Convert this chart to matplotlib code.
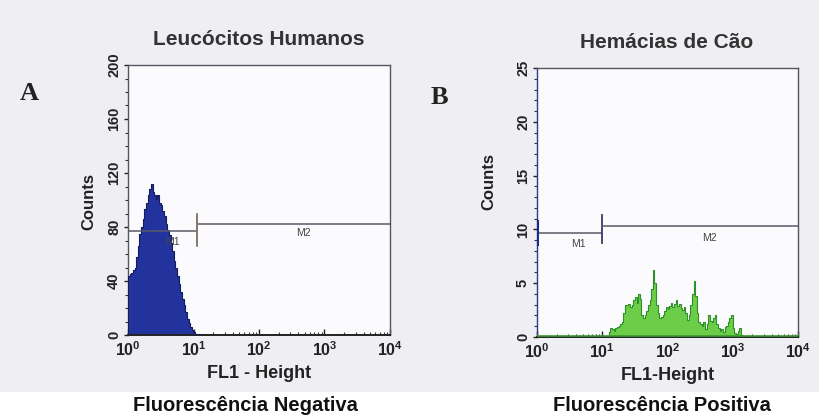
import numpy as np
import matplotlib
matplotlib.use("Agg")
import matplotlib.pyplot as plt
from matplotlib.patches import Rectangle
from matplotlib.ticker import MultipleLocator, LogLocator, LogFormatterMathtext, NullFormatter

plt.rcParams["font.family"] = ["Liberation Sans", "DejaVu Sans"]
plt.rcParams["font.weight"] = "bold"
plt.rcParams["axes.labelweight"] = "bold"
plt.rcParams["mathtext.fontset"] = "custom"
plt.rcParams["mathtext.bf"] = "Liberation Sans:bold"
plt.rcParams["mathtext.rm"] = "Liberation Sans:bold"
plt.rcParams["mathtext.default"] = "bf"

# histogram channels, in decades of FL1 (bin start), 0.025 decade wide
bin_w = 0.025
neg_start = 0.0
neg_counts = [44, 45, 46, 48, 50, 58, 66, 75, 80, 86, 93, 98, 104, 108, 112,
              106, 104, 101, 104, 98, 96, 92, 88, 82, 78, 74, 68, 62, 55, 50,
              44, 38, 32, 27, 22, 17, 12, 9, 6, 4, 2, 1, 1, 0.5]

pos_start = 1.10
pos_counts = [0.5, 0.8, 0.7, 0.6, 0.8, 0.9, 1.0, 1.2, 1.4, 2.2, 3.0, 3.0, 3.1,
              2.8, 3.0, 3.4, 3.7, 3.2, 4.0, 3.5, 2.0, 1.8, 2.0, 2.4, 3.0, 3.4,
              4.5, 6.2, 5.0, 3.0, 2.2, 1.8, 1.9, 2.0, 2.4, 2.8, 2.6, 2.9, 3.2,
              2.8, 3.1, 3.4, 2.9, 3.1, 2.7, 2.5, 2.8, 2.2, 1.6, 2.0, 3.0, 4.0,
              5.2, 3.8, 2.2, 1.4, 1.2, 1.0, 1.4, 0.7, 1.2, 2.0, 1.5, 1.4, 1.8,
              2.0, 1.2, 0.8, 0.6, 0.7, 0.5, 0.9, 1.0, 1.4, 1.8, 2.0, 0.8, 0.4,
              0.3, 0.6, 0.8, 0.2]

# gates: (x start, x end, y level)
neg_m1 = (1.0, 11.5, 77)
neg_m2 = (11.5, 10000, 82)
pos_m1 = (1.0, 10.0, 9.7)
pos_m2 = (10.0, 10000, 10.3)

titles = ["Leucócitos Humanos", "Hemácias de Cão"]
xlabels = ["FL1 - Height", "FL1-Height"]
captions = ["Fluorescência Negativa", "Fluorescência Positiva"]

fig = plt.figure(figsize=(8.2, 4.16), dpi=100)
fig.patch.set_facecolor("#efeff3")
fig.patches.append(Rectangle((0, 0), 1, 1 - 392 / 416, transform=fig.transFigure,
                             facecolor="white", edgecolor="none", zorder=0))

ax1 = fig.add_axes([128 / 820, 1 - 335 / 416, 262 / 820, 270 / 416])
ax2 = fig.add_axes([537 / 820, 1 - 337 / 416, 261 / 820, 269 / 416])


def draw_hist(ax, start, counts, face, edge):
    edges = 10 ** (start + bin_w * np.arange(len(counts) + 1))
    ax.stairs(counts, edges, fill=True, facecolor=face, edgecolor="none", zorder=2)
    ax.stairs(counts, edges, color=edge, lw=0.8, zorder=3)


def draw_gate(ax, gate, tick_h, color="#5a5a6a"):
    x0, x1, y = gate
    ax.plot([x0, x1], [y, y], color=color, lw=1.1, zorder=4)
    for xe in (x0, x1):
        ax.plot([xe, xe], [y - tick_h, y + tick_h], color=color, lw=1.1, zorder=4)


draw_hist(ax1, neg_start, neg_counts, "#23339e", "#141c5a")
draw_hist(ax2, pos_start, pos_counts, "#6ccd48", "#2f8f2a")
ax2.plot([1, 10000], [0.1, 0.1], color="#3a9a30", lw=1.2, zorder=3)

draw_gate(ax1, neg_m1, 11)
draw_gate(ax1, neg_m2, 0.01)
ax1.plot([11.5, 11.5], [68, 90], color="#8a7a6a", lw=1.3, zorder=4)
draw_gate(ax2, pos_m1, 0.01)
ax2.plot([1, 1], [8.6, 10.8], color="#1a2a8a", lw=2.2, zorder=5)
ax2.plot([10, 10], [8.7, 11.3], color="#3a3a6a", lw=1.3, zorder=4)
draw_gate(ax2, pos_m2, 0.01)

ax1.text(4.7, 69, "M1", fontsize=7.5, color="#444", fontweight="normal", ha="center", va="center", zorder=5)
ax1.text(470, 75.5, "M2", fontsize=7.5, color="#444", fontweight="normal", ha="center", va="center", zorder=5)
ax2.text(4.3, 8.6, "M1", fontsize=7.5, color="#444", fontweight="normal", ha="center", va="center", zorder=5)
ax2.text(447, 9.2, "M2", fontsize=7.5, color="#444", fontweight="normal", ha="center", va="center", zorder=5)

for ax, ymax, major, minor in [(ax1, 200, 40, 10), (ax2, 25, 5, 1)]:
    ax.set_xscale("log")
    ax.set_xlim(1, 10000)
    ax.set_ylim(0, ymax)
    ax.set_facecolor("#fbfbfd")
    ax.xaxis.set_major_locator(LogLocator(base=10, numticks=10))
    ax.xaxis.set_major_formatter(LogFormatterMathtext())
    ax.xaxis.set_minor_locator(LogLocator(base=10, subs=np.arange(2, 10), numticks=10))
    ax.xaxis.set_minor_formatter(NullFormatter())
    ax.yaxis.set_major_locator(MultipleLocator(major))
    ax.yaxis.set_minor_locator(MultipleLocator(minor))
    ax.tick_params(axis="x", which="major", direction="in", length=4, width=1,
                   labelsize=11.5, pad=4, colors="#222")
    ax.tick_params(axis="x", which="minor", direction="in", length=2.5, width=0.8, colors="#333")
    ax.tick_params(axis="y", which="major", direction="out", length=3, width=1,
                   labelsize=10.5, pad=2, labelrotation=90, colors="#222")
    ax.tick_params(axis="y", which="minor", direction="out", length=2, width=0.8, colors="#333")
    for lbl in ax.get_yticklabels():
        lbl.set_va("center")
    for s in ax.spines.values():
        s.set_color("#555560")
        s.set_linewidth(1.0)
    ax.spines["bottom"].set_color("#222")
    ax.spines["bottom"].set_linewidth(1.4)
    ax.set_ylabel("Counts", fontsize=12, color="#222")

ax1.yaxis.set_label_coords(-32 / 262, (335 - 202) / 270)
ax2.yaxis.set_label_coords(-41 / 261, (337 - 182) / 269)

ax2.spines["left"].set_color("#2a3a8a")
ax2.spines["left"].set_linestyle((0, (2, 1)))

ax1.set_xlabel(xlabels[0], fontsize=13, labelpad=4, color="#222")
ax2.set_xlabel(xlabels[1], fontsize=13, labelpad=4, color="#222")

fig.text(259 / 820, 1 - 45 / 416, titles[0], fontsize=15, color="#333", ha="center", va="baseline")
fig.text(667 / 820, 1 - 48 / 416, titles[1], fontsize=15, color="#333", ha="center", va="baseline")
fig.text(245 / 820, 1 - 411 / 416, captions[0], fontsize=14.5, color="#111", ha="center", va="baseline")
fig.text(662 / 820, 1 - 411 / 416, captions[1], fontsize=14.5, color="#111", ha="center", va="baseline")

fig.text(29 / 820, 1 - 100 / 416, "A", fontsize=19, family="Liberation Serif", color="#222",
         ha="center", va="baseline")
fig.text(439 / 820, 1 - 104 / 416, "B", fontsize=19, family="Liberation Serif", color="#222",
         ha="center", va="baseline")

fig.savefig("out.png", dpi=100, facecolor=fig.get_facecolor())
